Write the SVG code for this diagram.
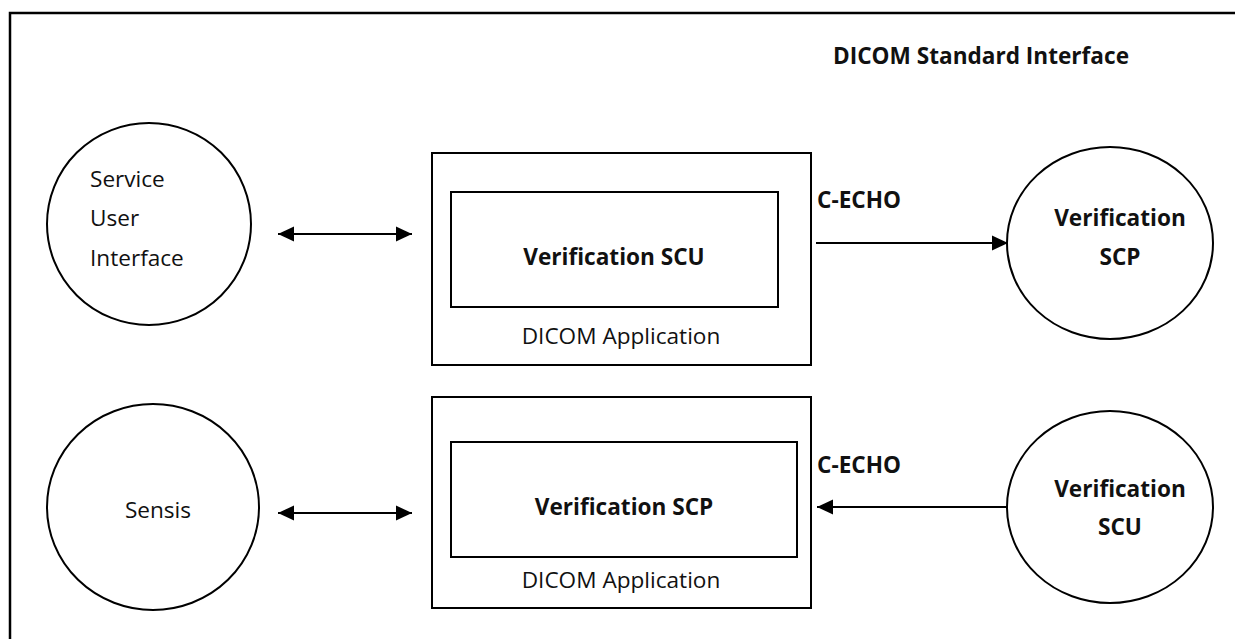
<svg xmlns="http://www.w3.org/2000/svg" width="1235" height="639" viewBox="0 0 1235 639">
<style>
.shape{fill:#fff;stroke:#000;stroke-width:2}
.conn{fill:none;stroke:#000;stroke-width:2}
.t{font-family:"Open Sans","Noto Sans","Liberation Sans",sans-serif;font-size:22.6px;fill:#111}
.b{font-weight:bold}
</style>
<defs>
<marker id="ah" markerUnits="userSpaceOnUse" markerWidth="18" markerHeight="16" refX="16" refY="8" orient="auto-start-reverse" viewBox="0 0 18 16">
<path d="M0,0.5 L16,8 L0,15.5 Z" fill="#000"/>
</marker>
</defs>
<rect width="1235" height="639" fill="#fff"/>
<path d="M10,639 L10,13 L1235,13" fill="none" stroke="#000" stroke-width="2.5"/>
<text class="t b" x="833" y="64" font-size="20.3">DICOM Standard Interface</text>

<g id="service-ui">
<ellipse class="shape" cx="149" cy="224" rx="102" ry="101"/>
<text class="t" x="90" y="187">Service</text>
<text class="t" x="90" y="226">User</text>
<text class="t" x="90" y="266">Interface</text>
</g>

<g id="dicom-app-1">
<rect class="shape" x="432" y="153" width="379" height="212"/>
<rect class="shape" x="451" y="192" width="327" height="115"/>
<text class="t b" x="614" y="265" text-anchor="middle">Verification SCU</text>
<text class="t" x="621" y="344" text-anchor="middle">DICOM Application</text>
</g>

<g id="verification-scp">
<ellipse class="shape" cx="1110" cy="243" rx="103" ry="96"/>
<text class="t b" x="1120" y="226" text-anchor="middle">Verification</text>
<text class="t b" x="1120" y="265" text-anchor="middle">SCP</text>
</g>

<g id="sensis">
<ellipse class="shape" cx="153" cy="507" rx="106" ry="103"/>
<text class="t" x="158" y="518" text-anchor="middle">Sensis</text>
</g>

<g id="dicom-app-2">
<rect class="shape" x="432" y="397" width="379" height="211"/>
<rect class="shape" x="451" y="442" width="346" height="115"/>
<text class="t b" x="624" y="515" text-anchor="middle">Verification SCP</text>
<text class="t" x="621" y="588" text-anchor="middle">DICOM Application</text>
</g>

<g id="verification-scu">
<ellipse class="shape" cx="1110" cy="507" rx="103" ry="96"/>
<text class="t b" x="1120" y="497" text-anchor="middle">Verification</text>
<text class="t b" x="1120" y="535" text-anchor="middle">SCU</text>
</g>

<g id="connectors">
<line class="conn" x1="278" y1="234" x2="412" y2="234" marker-start="url(#ah)" marker-end="url(#ah)"/>
<line class="conn" x1="278" y1="513" x2="412" y2="513" marker-start="url(#ah)" marker-end="url(#ah)"/>
<line class="conn" x1="816" y1="243" x2="1008" y2="243" marker-end="url(#ah)"/>
<text class="t b" x="817" y="208">C-ECHO</text>
<line class="conn" x1="1008" y1="507" x2="817" y2="507" marker-end="url(#ah)"/>
<text class="t b" x="817" y="473">C-ECHO</text>
</g>
</svg>
